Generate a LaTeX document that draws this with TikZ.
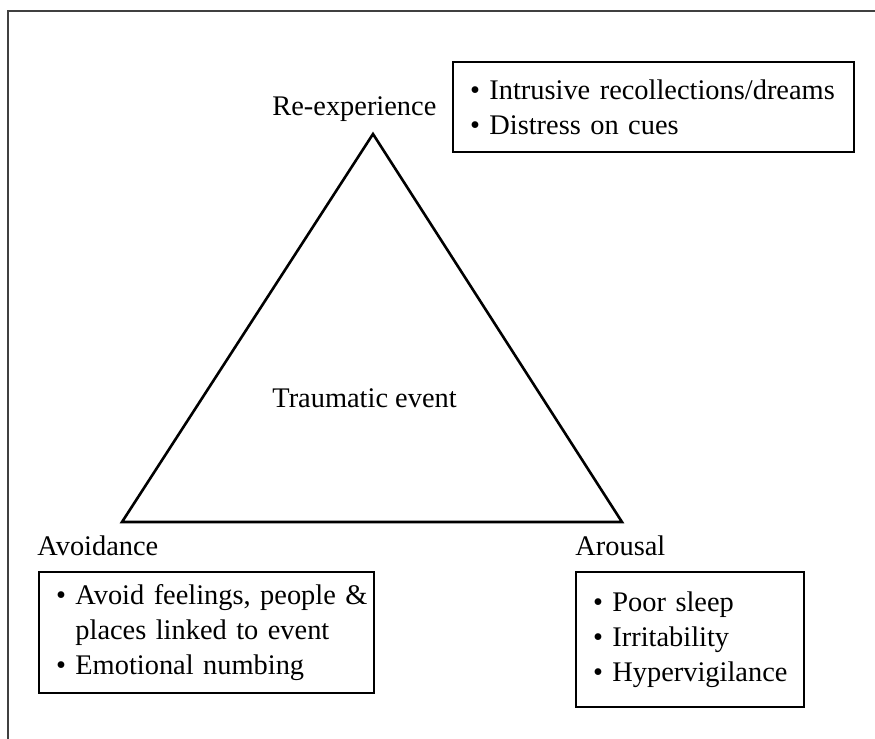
\documentclass[tikz,border=0pt]{standalone}
\usepackage{fontspec}
\setmainfont{Liberation Serif}
\usetikzlibrary{positioning}
\newcommand{\bul}[1]{\mbox{\textbullet\ #1}}
\newcommand{\nobul}[1]{\mbox{\phantom{\textbullet\ }#1}}
\begin{document}
\begin{tikzpicture}[
        x=0.5pt, y=-0.5pt,
        every node/.style={font=\fontsize{14.2}{17.5}\selectfont, inner sep=0pt},
        corner/.style={anchor=base west},
        listbox/.style={draw, line width=1pt, anchor=north west, align=left, inner xsep=8.5pt, inner ysep=0pt},
        frame/.style={draw=black!75, line width=0.75pt},
        triangle/.style={draw, line width=1.3pt, line join=miter},
    ]
    \useasboundingbox (0,0) rectangle (875,739);
    \draw[frame] (875,11) -- (8,11) -- (8,739);

    % the three corners of the triangle
    \coordinate (reexp) at (373,134);
    \coordinate (avoid) at (122,522);
    \coordinate (arous) at (622,522);
    \draw[triangle] (reexp) -- (avoid) -- (arous) -- cycle;
    \node[corner] (event) at (272,407) {Traumatic event};

    \node[corner] (reexplabel) at (272,115) {Re-experience};
    \node[corner] (avoidlabel) at (37,555) {Avoidance};
    \node[corner] (arouslabel) at (575,555) {Arousal};

    \node[listbox, text width=183.5pt, minimum height=45pt] (reexpbox) at (452,61)
        {\bul{Intrusive recollections/dreams}\\ \bul{Distress on cues}};
    \node[listbox, text width=150.5pt, minimum height=60.5pt] (avoidbox) at (38,571)
        {\bul{Avoid feelings, people \&}\\ \nobul{places linked to event}\\ \bul{Emotional numbing}};
    \node[listbox, text width=97pt, minimum height=67.5pt] (arousbox) at (575,571)
        {\bul{Poor sleep}\\ \bul{Irritability}\\ \bul{Hypervigilance}};
\end{tikzpicture}
\end{document}
